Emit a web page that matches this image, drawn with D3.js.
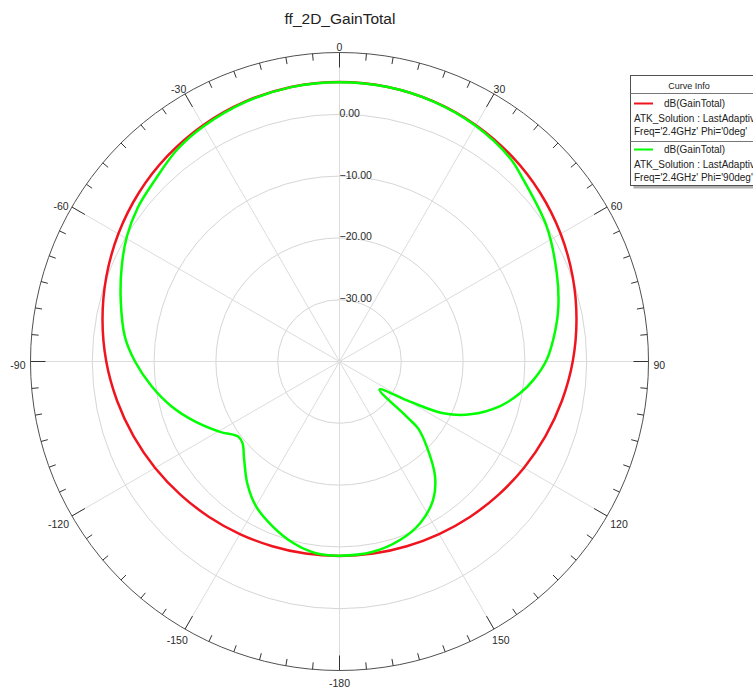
<!DOCTYPE html>
<html>
<head>
<meta charset="utf-8">
<script src="https://cdn.jsdelivr.net/npm/d3@7"></script>
<style>
  html, body { margin: 0; padding: 0; background: #fff; }
  svg { display: block; font-family: "Liberation Sans", Arial, sans-serif; }
</style>
</head>
<body>
<svg id="chart" width="753" height="691"></svg>
<script>
// ---------------- data ----------------
const chartTitle = "ff_2D_GainTotal";
const angleTickLabels = ["0", "30", "60", "90", "120", "150", "-180", "-150", "-120", "-90", "-60", "-30"];
const angleTickValues = [0, 30, 60, 90, 120, 150, 180, 210, 240, 270, 300, 330];
const radialTicks = [0, -10, -20, -30];
const radialDomain = [-40, 10];

// Phi = 0deg (red)
const redAngles = [-180, -170, -160, -150, -140, -130, -120, -110, -100, -90, -80, -70, -60, -50, -40, -30, -20, -10,
                   0, 10, 20, 30, 40, 50, 60, 70, 80, 90, 100, 110, 120, 130, 140, 150, 160, 170];
const redDb = [-8.53, -8.44, -8.19, -7.76, -7.17, -6.44, -5.55, -4.55, -3.45, -2.26, -1.06, 0.15, 1.32, 2.41, 3.36, 4.15, 4.74, 5.10,
               5.23, 5.10, 4.74, 4.15, 3.36, 2.41, 1.32, 0.15, -1.06, -2.26, -3.45, -4.55, -5.55, -6.44, -7.17, -7.76, -8.19, -8.44];

// Phi = 90deg (green)
const greenAngles = [-180, -173, -166, -158, -150, -143, -136, -130, -126.5, -120.5, -112.5, -105, -97.5, -90, -83.5, -74.5, -66.5, -59.5, -52.5, -45.5, -37.5, -30, -20, -10,
                     0, 10, 20, 30, 40, 45.5, 57, 68, 76, 82, 89.5, 95.5, 100, 105.5, 112, 116.5, 119.7, 124.9, 129.4, 130.4, 134.3, 140.3, 146, 153.5, 161.3, 170];
const greenDb = [-8.58, -8.74, -9.64, -11.2, -12.96, -15.23, -17.8, -19.5, -19.6, -17.57, -14.67, -11.88, -9.34, -6.91, -5.06, -3.27, -1.57, -0.08, 1.08, 1.88, 3.19, 3.95, 4.65, 5.08,
                 5.2, 5.1, 4.72, 4.05, 2.95, 1.8, 0.0, -2.07, -3.5, -4.76, -6.47, -8.5, -10.34, -13.02, -17.18, -21.23, -26.87, -32.1, -25.9, -23.3, -20.27, -15.79, -12.93, -10.76, -9.5, -8.74];

const legendHeader = "Curve Info";
const legendNames = ["dB(GainTotal)", "dB(GainTotal)"];
const legendSolutions = ["ATK_Solution : LastAdaptive", "ATK_Solution : LastAdaptive"];
const legendParams = ["Freq='2.4GHz' Phi='0deg'", "Freq='2.4GHz' Phi='90deg'"];
const seriesColors = ["#f0141e", "#00ff00"];

// ---------------- drawing ----------------
const svg = d3.select("#chart");
const cx = 339.5, cy = 361.5, R = 309;
const rScale = d3.scaleLinear().domain(radialDomain).range([0, R]);
const rad = d => d * Math.PI / 180;

svg.append("text")
  .attr("x", 340).attr("y", 24)
  .attr("text-anchor", "middle")
  .attr("font-size", "15.5px")
  .attr("fill", "#222")
  .text(chartTitle);

const g = svg.append("g").attr("transform", `translate(${cx},${cy})`);

// grid rings
g.selectAll("circle.ring").data(radialTicks).join("circle")
  .attr("class", "ring")
  .attr("r", d => rScale(d))
  .attr("fill", "none")
  .attr("stroke", "#d6d6d6")
  .attr("stroke-width", 1);

// spokes
g.selectAll("line.spoke").data(angleTickValues).join("line")
  .attr("class", "spoke")
  .attr("x1", 0).attr("y1", 0)
  .attr("x2", d => R * Math.sin(rad(d)))
  .attr("y2", d => -R * Math.cos(rad(d)))
  .attr("stroke", "#dcdcdc")
  .attr("stroke-width", 1);

// outer circle
g.append("circle").attr("r", R).attr("fill", "none").attr("stroke", "#505050").attr("stroke-width", 1);

// ticks every 5 deg
const tickAngles = d3.range(0, 360, 5);
g.selectAll("line.tick").data(tickAngles).join("line")
  .attr("class", "tick")
  .attr("x1", d => R * Math.sin(rad(d)))
  .attr("y1", d => -R * Math.cos(rad(d)))
  .attr("x2", d => (R - (d % 30 === 0 ? 15 : 7)) * Math.sin(rad(d)))
  .attr("y2", d => -(R - (d % 30 === 0 ? 15 : 7)) * Math.cos(rad(d)))
  .attr("stroke", "#333")
  .attr("stroke-width", 1);

// radial labels
g.selectAll("text.rlab").data(radialTicks).join("text")
  .attr("class", "rlab")
  .attr("x", 0)
  .attr("y", d => -rScale(d) + 2.5)
  .attr("font-size", "10.5px")
  .attr("fill", "#2a2a2a")
  .text(d => d3.format(".2f")(d));

// angle labels
const alab = g.selectAll("text.alab").data(angleTickValues).join("text")
  .attr("class", "alab")
  .attr("font-size", "10.5px")
  .attr("fill", "#2a2a2a")
  .attr("text-anchor", "middle")
  .text((d, i) => angleTickLabels[i]);
alab.each(function(d) {
  const w = this.getComputedTextLength();
  const h = 8;
  const ux = Math.sin(rad(d)), uy = -Math.cos(rad(d));
  const gap = 5;
  const x = (R + gap) * ux + ux * w / 2;
  const yc = (R + gap) * uy + uy * h / 2 + 3;
  d3.select(this).attr("x", x).attr("y", yc + 4);
});

// curves
const line = d3.lineRadial()
  .angle(d => rad(d[0]))
  .radius(d => rScale(d[1]))
  .curve(d3.curveCatmullRomClosed.alpha(0.5));

const redData = redAngles.map((a, i) => [a, redDb[i]]);
const greenData = greenAngles.map((a, i) => [a, greenDb[i]]);

g.append("path").attr("d", line(redData)).attr("fill", "none").attr("stroke", seriesColors[0]).attr("stroke-width", 2.5);
g.append("path").attr("d", line(greenData)).attr("fill", "none").attr("stroke", seriesColors[1]).attr("stroke-width", 2.5);

// legend
const lg = svg.append("g");
const lx = 630.5, ly = 75.5, lw = 140, lh = 110;
lg.append("rect").attr("x", lx + 3).attr("y", ly + 3).attr("width", lw).attr("height", lh).attr("fill", "#b0b0b0");
lg.append("rect").attr("x", lx).attr("y", ly).attr("width", lw).attr("height", lh).attr("fill", "#fff").attr("stroke", "#505050");
lg.append("text").attr("x", 689).attr("y", 89).attr("text-anchor", "middle").attr("font-size", "9px").attr("fill", "#222").text(legendHeader);
lg.append("line").attr("x1", lx).attr("x2", lx + lw).attr("y1", 93.5).attr("y2", 93.5).attr("stroke", "#777");
lg.append("line").attr("x1", lx).attr("x2", lx + lw).attr("y1", 141.5).attr("y2", 141.5).attr("stroke", "#777");
[0, 1].forEach(i => {
  const y0 = 103.5 + i * 46;
  lg.append("line").attr("x1", 634).attr("x2", 653).attr("y1", y0).attr("y2", y0).attr("stroke", seriesColors[i]).attr("stroke-width", 2);
  lg.append("text").attr("x", 664).attr("y", y0 + 3.5).attr("font-size", "10px").attr("fill", "#222").text(legendNames[i]);
  lg.append("text").attr("x", 634).attr("y", y0 + 18).attr("font-size", "10px").attr("fill", "#222").text(legendSolutions[i]);
  lg.append("text").attr("x", 634).attr("y", y0 + 31.5).attr("font-size", "10px").attr("fill", "#222").text(legendParams[i]);
});
</script>
</body>
</html>
